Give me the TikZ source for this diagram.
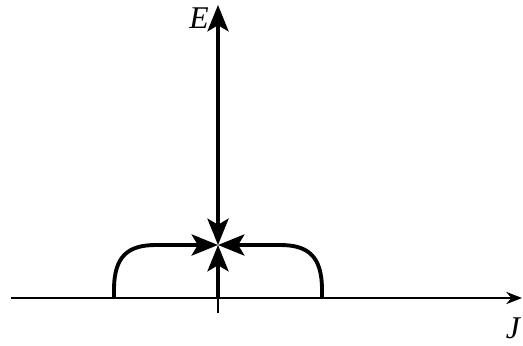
\documentclass[tikz,border=0pt]{standalone}
\usepackage{fontspec}
\setmainfont{Liberation Serif}
\usetikzlibrary{arrows.meta}

\begin{document}
\begin{tikzpicture}
[
	x=0.02cm, y=0.02cm,
	axis/.style={line width=0.9pt},
	flow/.style={line width=2.2pt},
	lbl/.style={font=\fontsize{18}{20}\selectfont\itshape},
	head/.tip={Stealth[length=15pt,width=12pt,inset=3.5pt]}
]
	\useasboundingbox (-218,-47) rectangle (305,298);

	% points
	\coordinate (O) at (0,0);
	\coordinate (C) at (0,53);
	\coordinate (top) at (0,293);
	\coordinate (xl) at (-207,0);
	\coordinate (xr) at (304,0);
	\coordinate (yb) at (0,-15);
	\coordinate (L) at (-104,0);
	\coordinate (R) at (104,0);

	% axes
	\draw[axis,-{Stealth[length=9pt,width=7pt]}] (xl) -- (xr);
	\draw[axis] (yb) -- (O);
	\node[lbl] at (295,-30) (J) {J};

	% flows into the fixed point
	\draw[flow,-head] (O) -- (C);
	\draw[flow,head-head] (C) -- (top);
	\node[lbl] at (-19,280) (E) {E};

	\draw[flow,-head] (L) -- (-104,8) .. controls (-104,42) and (-90,53) .. (-62,53) -- (C);
	\draw[flow,-head] (R) -- (104,8) .. controls (104,42) and (90,53) .. (62,53) -- (C);

\end{tikzpicture}
\end{document}
